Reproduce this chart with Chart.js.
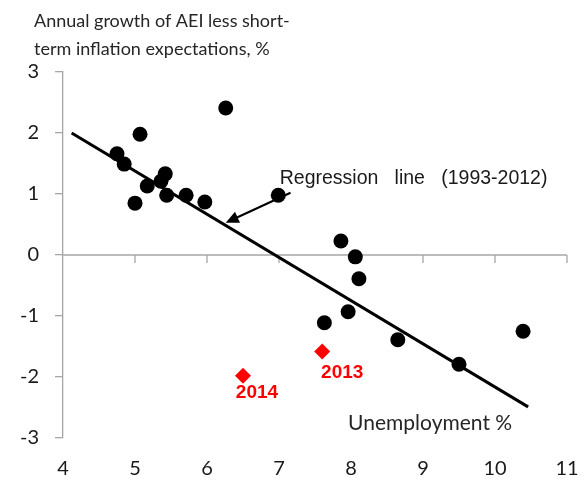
<!DOCTYPE html>
<html>
<head>
<meta charset="utf-8">
<script src="https://cdn.jsdelivr.net/npm/chart.js@4/dist/chart.umd.min.js"></script>
<style>
  html, body { margin: 0; padding: 0; background: #ffffff; }
  #wrap { width: 587px; height: 483px; }
</style>
</head>
<body>
<div id="wrap"><canvas id="c" width="587" height="483"></canvas></div>
<script>
// ---- data ----
const unemployment = [6.26, 5.07, 4.75, 4.85, 5.42, 5.36, 5.17, 5.00, 5.44, 5.71, 5.97, 6.99, 7.86, 8.06, 8.11, 7.96, 7.63, 8.65, 9.50, 10.39];
const aeiGrowth    = [2.41, 1.98, 1.66, 1.49, 1.33, 1.21, 1.13, 0.85, 0.98, 0.98, 0.87, 0.98, 0.23, -0.03, -0.39, -0.93, -1.11, -1.39, -1.79, -1.25];
const recentYears        = ['2013', '2014'];
const recentUnemployment = [7.60, 6.50];
const recentGrowth       = [-1.58, -1.98];
const regressionX = [4.12, 10.46];
const regressionY = [2.00, -2.49];
const xRange = [4, 11];
const yRange = [-3, 3];
const titleLines = ['Annual growth of AEI less short-', 'term inflation expectations, %'];
const regressionLabel = 'Regression   line   (1993-2012)';
const xAxisTitle = 'Unemployment %';

const FONT = 'Lato, "Open Sans", sans-serif';
const AXIS_GRAY = '#a6a6a6';
const yearLabelOffsets = [[20, 21], [14, 17]];

const annotations = {
  id: 'annotations',
  beforeDatasetsDraw(chart) {
    const { ctx, scales: { x, y } } = chart;
    ctx.save();
    // horizontal axis crossing at y = 0
    const y0 = y.getPixelForValue(0);
    ctx.strokeStyle = AXIS_GRAY;
    ctx.lineWidth = 1.3;
    ctx.beginPath();
    ctx.moveTo(x.getPixelForValue(xRange[0]), y0);
    ctx.lineTo(x.getPixelForValue(xRange[1]), y0);
    for (let v = xRange[0] + 1; v <= xRange[1]; v++) {
      const px = x.getPixelForValue(v);
      ctx.moveTo(px, y0);
      ctx.lineTo(px, y0 + 8);
    }
    ctx.stroke();
    // arrow to regression line
    const sx = x.getPixelForValue(7.16), sy = y.getPixelForValue(1.02);
    const ex = x.getPixelForValue(6.26), ey = y.getPixelForValue(0.53);
    const ang = Math.atan2(ey - sy, ex - sx);
    ctx.strokeStyle = '#000';
    ctx.fillStyle = '#000';
    ctx.lineWidth = 2;
    ctx.beginPath();
    ctx.moveTo(sx, sy);
    ctx.lineTo(ex - 10 * Math.cos(ang), ey - 10 * Math.sin(ang));
    ctx.stroke();
    ctx.beginPath();
    ctx.moveTo(ex, ey);
    ctx.lineTo(ex - 13 * Math.cos(ang) + 6 * Math.sin(ang), ey - 13 * Math.sin(ang) - 6 * Math.cos(ang));
    ctx.lineTo(ex - 13 * Math.cos(ang) - 6 * Math.sin(ang), ey - 13 * Math.sin(ang) + 6 * Math.cos(ang));
    ctx.closePath();
    ctx.fill();
    ctx.restore();
  },
  afterDatasetsDraw(chart) {
    const { ctx, scales: { x, y } } = chart;
    ctx.save();
    ctx.textBaseline = 'middle';
    // title
    ctx.fillStyle = '#262626';
    ctx.font = '18px ' + FONT;
    ctx.textAlign = 'left';
    ctx.fillText(titleLines[0], 34, 21);
    ctx.fillText(titleLines[1], 34, 49);
    // regression label
    ctx.font = '19.5px "Liberation Sans", Arial, sans-serif';
    ctx.fillStyle = '#1a1a1a';
    ctx.fillText(regressionLabel, x.getPixelForValue(7.01), y.getPixelForValue(1.25));
    // x axis title
    ctx.font = '21px ' + FONT;
    ctx.fillStyle = '#262626';
    ctx.fillText(xAxisTitle, x.getPixelForValue(7.96), y.getPixelForValue(-2.75));
    // year labels
    ctx.font = 'bold 19px "Liberation Sans", Arial, sans-serif';
    ctx.fillStyle = '#ff0000';
    ctx.textAlign = 'center';
    for (let i = 0; i < recentYears.length; i++) {
      ctx.fillText(recentYears[i],
        x.getPixelForValue(recentUnemployment[i]) + yearLabelOffsets[i][0],
        y.getPixelForValue(recentGrowth[i]) + yearLabelOffsets[i][1]);
    }
    ctx.restore();
  }
};

new Chart(document.getElementById('c'), {
  type: 'scatter',
  data: {
    datasets: [
      {
        label: '1993-2012',
        data: unemployment.map((u, i) => ({ x: u, y: aeiGrowth[i] })),
        pointRadius: 7.5,
        pointHoverRadius: 7.5,
        pointBackgroundColor: '#000000',
        pointBorderColor: '#000000',
        pointBorderWidth: 0,
        order: 1
      },
      {
        label: '2013-2014',
        data: recentUnemployment.map((u, i) => ({ x: u, y: recentGrowth[i] })),
        pointStyle: 'rectRot',
        pointRadius: 8,
        pointHoverRadius: 8,
        pointBackgroundColor: '#ff0000',
        pointBorderColor: '#ff0000',
        pointBorderWidth: 0,
        order: 1
      },
      {
        type: 'line',
        label: 'Regression',
        data: regressionX.map((v, i) => ({ x: v, y: regressionY[i] })),
        borderColor: '#000000',
        borderWidth: 3,
        pointRadius: 0,
        fill: false,
        order: 2
      }
    ]
  },
  options: {
    responsive: false,
    animation: false,
    devicePixelRatio: 1,
    layout: { padding: { left: 0, top: 72, right: 20, bottom: 0 } },
    plugins: { legend: { display: false }, tooltip: { enabled: false }, title: { display: false } },
    scales: {
      x: {
        type: 'linear',
        min: xRange[0], max: xRange[1],
        ticks: { stepSize: 1, color: '#1a1a1a', font: { family: FONT, size: 20 }, padding: 19, maxRotation: 0 },
        grid: { display: false, drawTicks: false },
        border: { display: false },
        afterFit(scale) { scale.height = 45; scale.paddingLeft = 0; scale.paddingRight = 0; }
      },
      y: {
        type: 'linear',
        min: yRange[0], max: yRange[1],
        ticks: { stepSize: 1, color: '#1a1a1a', font: { family: FONT, size: 20 }, padding: 16 },
        grid: { drawOnChartArea: false, drawTicks: true, tickLength: 8, color: AXIS_GRAY, lineWidth: 1.3 },
        border: { display: true, color: AXIS_GRAY, width: 1.3 },
        afterFit(scale) { scale.width = 63; }
      }
    }
  },
  plugins: [annotations]
});
</script>
</body>
</html>
